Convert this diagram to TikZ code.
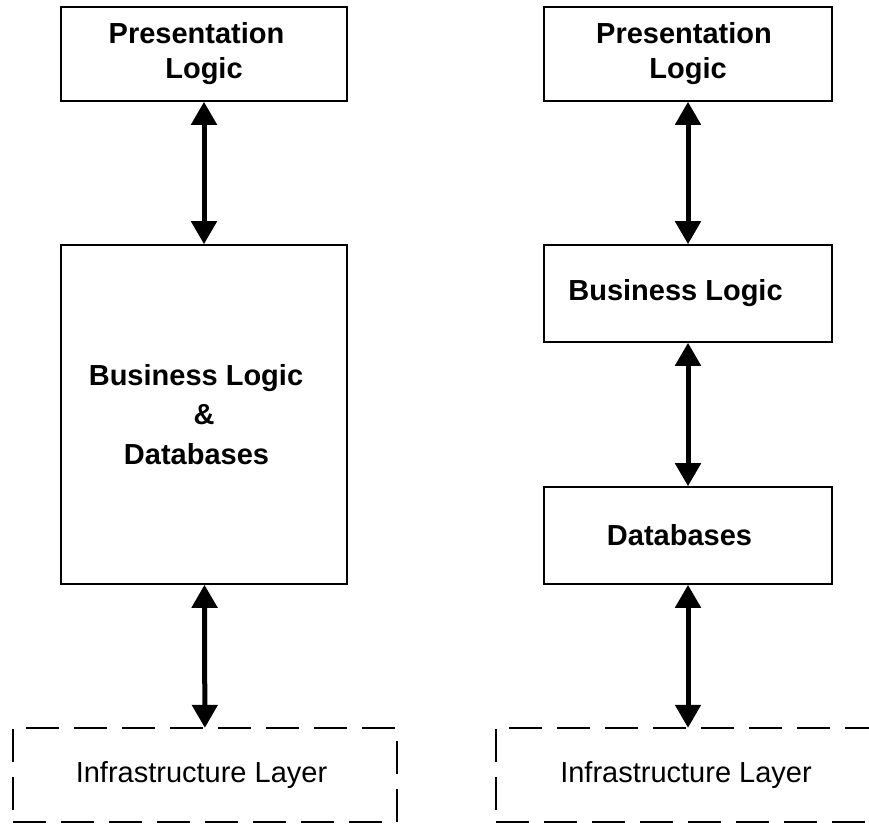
\documentclass[tikz,border=0pt]{standalone}
\usepackage{fontspec}
\setmainfont{Liberation Sans}
\usetikzlibrary{arrows.meta}
\begin{document}
\begin{tikzpicture}[x=1pt,y=-1pt,
  box/.style={draw, line width=1.6pt, minimum width=286pt, minimum height=94pt,
    inner sep=0pt, align=center, font=\fontsize{29}{35}\selectfont\bfseries},
  infra/.style={minimum width=384pt, minimum height=94pt, inner sep=0pt,
    font=\fontsize{29}{35}\selectfont},
  frame/.style={line width=1.6pt, dash pattern=on 33pt off 15pt, dash phase=36pt},
  link/.style={line width=5pt,
    {Triangle[width=25pt,length=23pt]}-{Triangle[width=25pt,length=23pt]}}]
\useasboundingbox (0,0) rectangle (869,824);

% two-tier layout (left)
\node[box] (lpres) at (204,54) {Presentation\hspace*{15pt}\\Logic};
\node[box, minimum height=339pt, font=\fontsize{29}{39.5}\selectfont\bfseries]
  (lcore) at (204,414.5) {Business Logic\hspace*{16pt}\\\&\\Databases\hspace*{15pt}};
\node[infra] (linfra) at (205,775) {Infrastructure Layer\hspace*{7pt}};
\draw[frame] (linfra.south west) -- (linfra.north west) -- (linfra.north east)
  -- (linfra.south east) -- cycle;

\draw[link] (lpres) -- (lcore);
\draw[link] (lcore) -- (linfra);

% three-tier layout (right)
\node[box, minimum width=288pt] (rpres) at (688,54) {Presentation\hspace*{8pt}\\Logic};
\node[box, minimum width=288pt, minimum height=97pt] (rbus) at (688,293.5)
  {Business Logic\hspace*{25pt}};
\node[box, minimum width=288pt, minimum height=97pt] (rdb) at (688,535.5)
  {Databases\hspace*{17pt}};
\node[infra] (rinfra) at (688,775) {Infrastructure Layer\hspace*{4pt}};
\draw[frame] (rinfra.south west) -- (rinfra.north west) -- (rinfra.north east)
  -- (rinfra.south east) -- cycle;

\draw[link] (rpres) -- (rbus);
\draw[link] (rbus) -- (rdb);
\draw[link] (rdb) -- (rinfra);
\end{tikzpicture}
\end{document}
